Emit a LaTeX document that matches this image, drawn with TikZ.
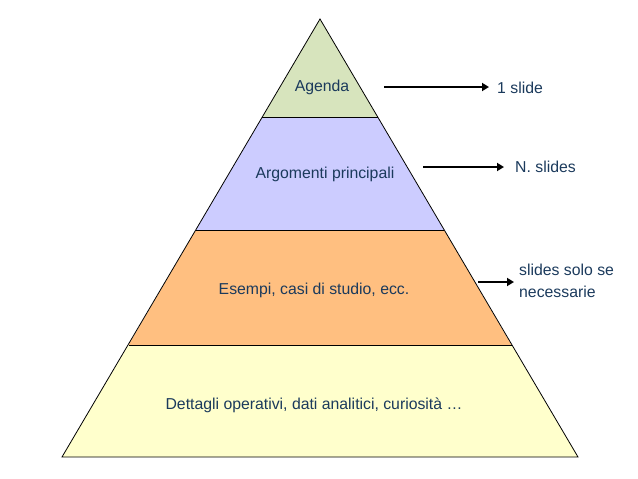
\documentclass[tikz,border=0pt]{standalone}
\usepackage{fontspec}
\setmainfont{Liberation Sans}
\usetikzlibrary{arrows.meta}
\definecolor{txt}{HTML}{1B3A5C}
\definecolor{fgreen}{HTML}{D7E4BD}
\definecolor{fblue}{HTML}{CCCCFF}
\definecolor{forange}{HTML}{FFBF80}
\definecolor{fyellow}{HTML}{FFFFCC}
\tikzset{
  band/.style={draw=black, line width=0.8pt, line join=miter},
  lbl/.style={text=txt, font=\fontsize{15.8}{22}\selectfont, inner sep=0pt},
  note/.style={text=txt, font=\fontsize{15.8}{22}\selectfont, inner sep=0pt, anchor=west, align=left},
  arr/.style={-{Triangle[length=7pt,width=8pt]}, line width=2pt, black}
}
\begin{document}
\begin{tikzpicture}[x=1pt,y=-1pt]
\useasboundingbox (0,0) rectangle (638,479);
% pyramid coordinates
\coordinate (apex) at (320,19);
\coordinate (l1) at (262.4,117); \coordinate (r1) at (377.6,117);
\coordinate (l2) at (195.8,230); \coordinate (r2) at (444.2,230);
\coordinate (l3) at (128.5,345); \coordinate (r3) at (511.5,345);
\coordinate (l4) at (62,457);    \coordinate (r4) at (578,457);
\fill[fgreen] (apex) -- (r1) -- (l1) -- cycle;
\fill[fblue] (l1) -- (r1) -- (r2) -- (l2) -- cycle;
\fill[forange] (l2) -- (r2) -- (r3) -- (l3) -- cycle;
\fill[fyellow] (l3) -- (r3) -- (r4) -- (l4) -- cycle;
\draw[band] (apex) -- (r4) -- (l4) -- cycle;
\draw[band] (l1) -- (r1);
\draw[band] (l2) -- (r2);
\draw[band] (l3) -- (r3);
% labels
\node[lbl] (agenda) at (322,87) {Agenda};
\node[lbl] (argom) at (325,174) {Argomenti principali};
\node[lbl] (esempi) at (314,290) {Esempi, casi di studio, ecc.};
\node[lbl] (dett) at (314,405) {Dettagli operativi, dati analitici, curiosità …};
% notes
\node[note] (n1) at (497,88) {1 slide};
\node[note] (n2) at (515,167) {N. slides};
\node[note] (n3) at (519,281) {slides solo se\\necessarie};
% arrows
\coordinate (a1s) at (384,87); \coordinate (a1e) at (489,87);
\coordinate (a2s) at (423,167); \coordinate (a2e) at (504,167);
\coordinate (a3s) at (478,282); \coordinate (a3e) at (514,282);
\draw[arr] (a1s) -- (a1e);
\draw[arr] (a2s) -- (a2e);
\draw[arr] (a3s) -- (a3e);
\end{tikzpicture}
\end{document}
